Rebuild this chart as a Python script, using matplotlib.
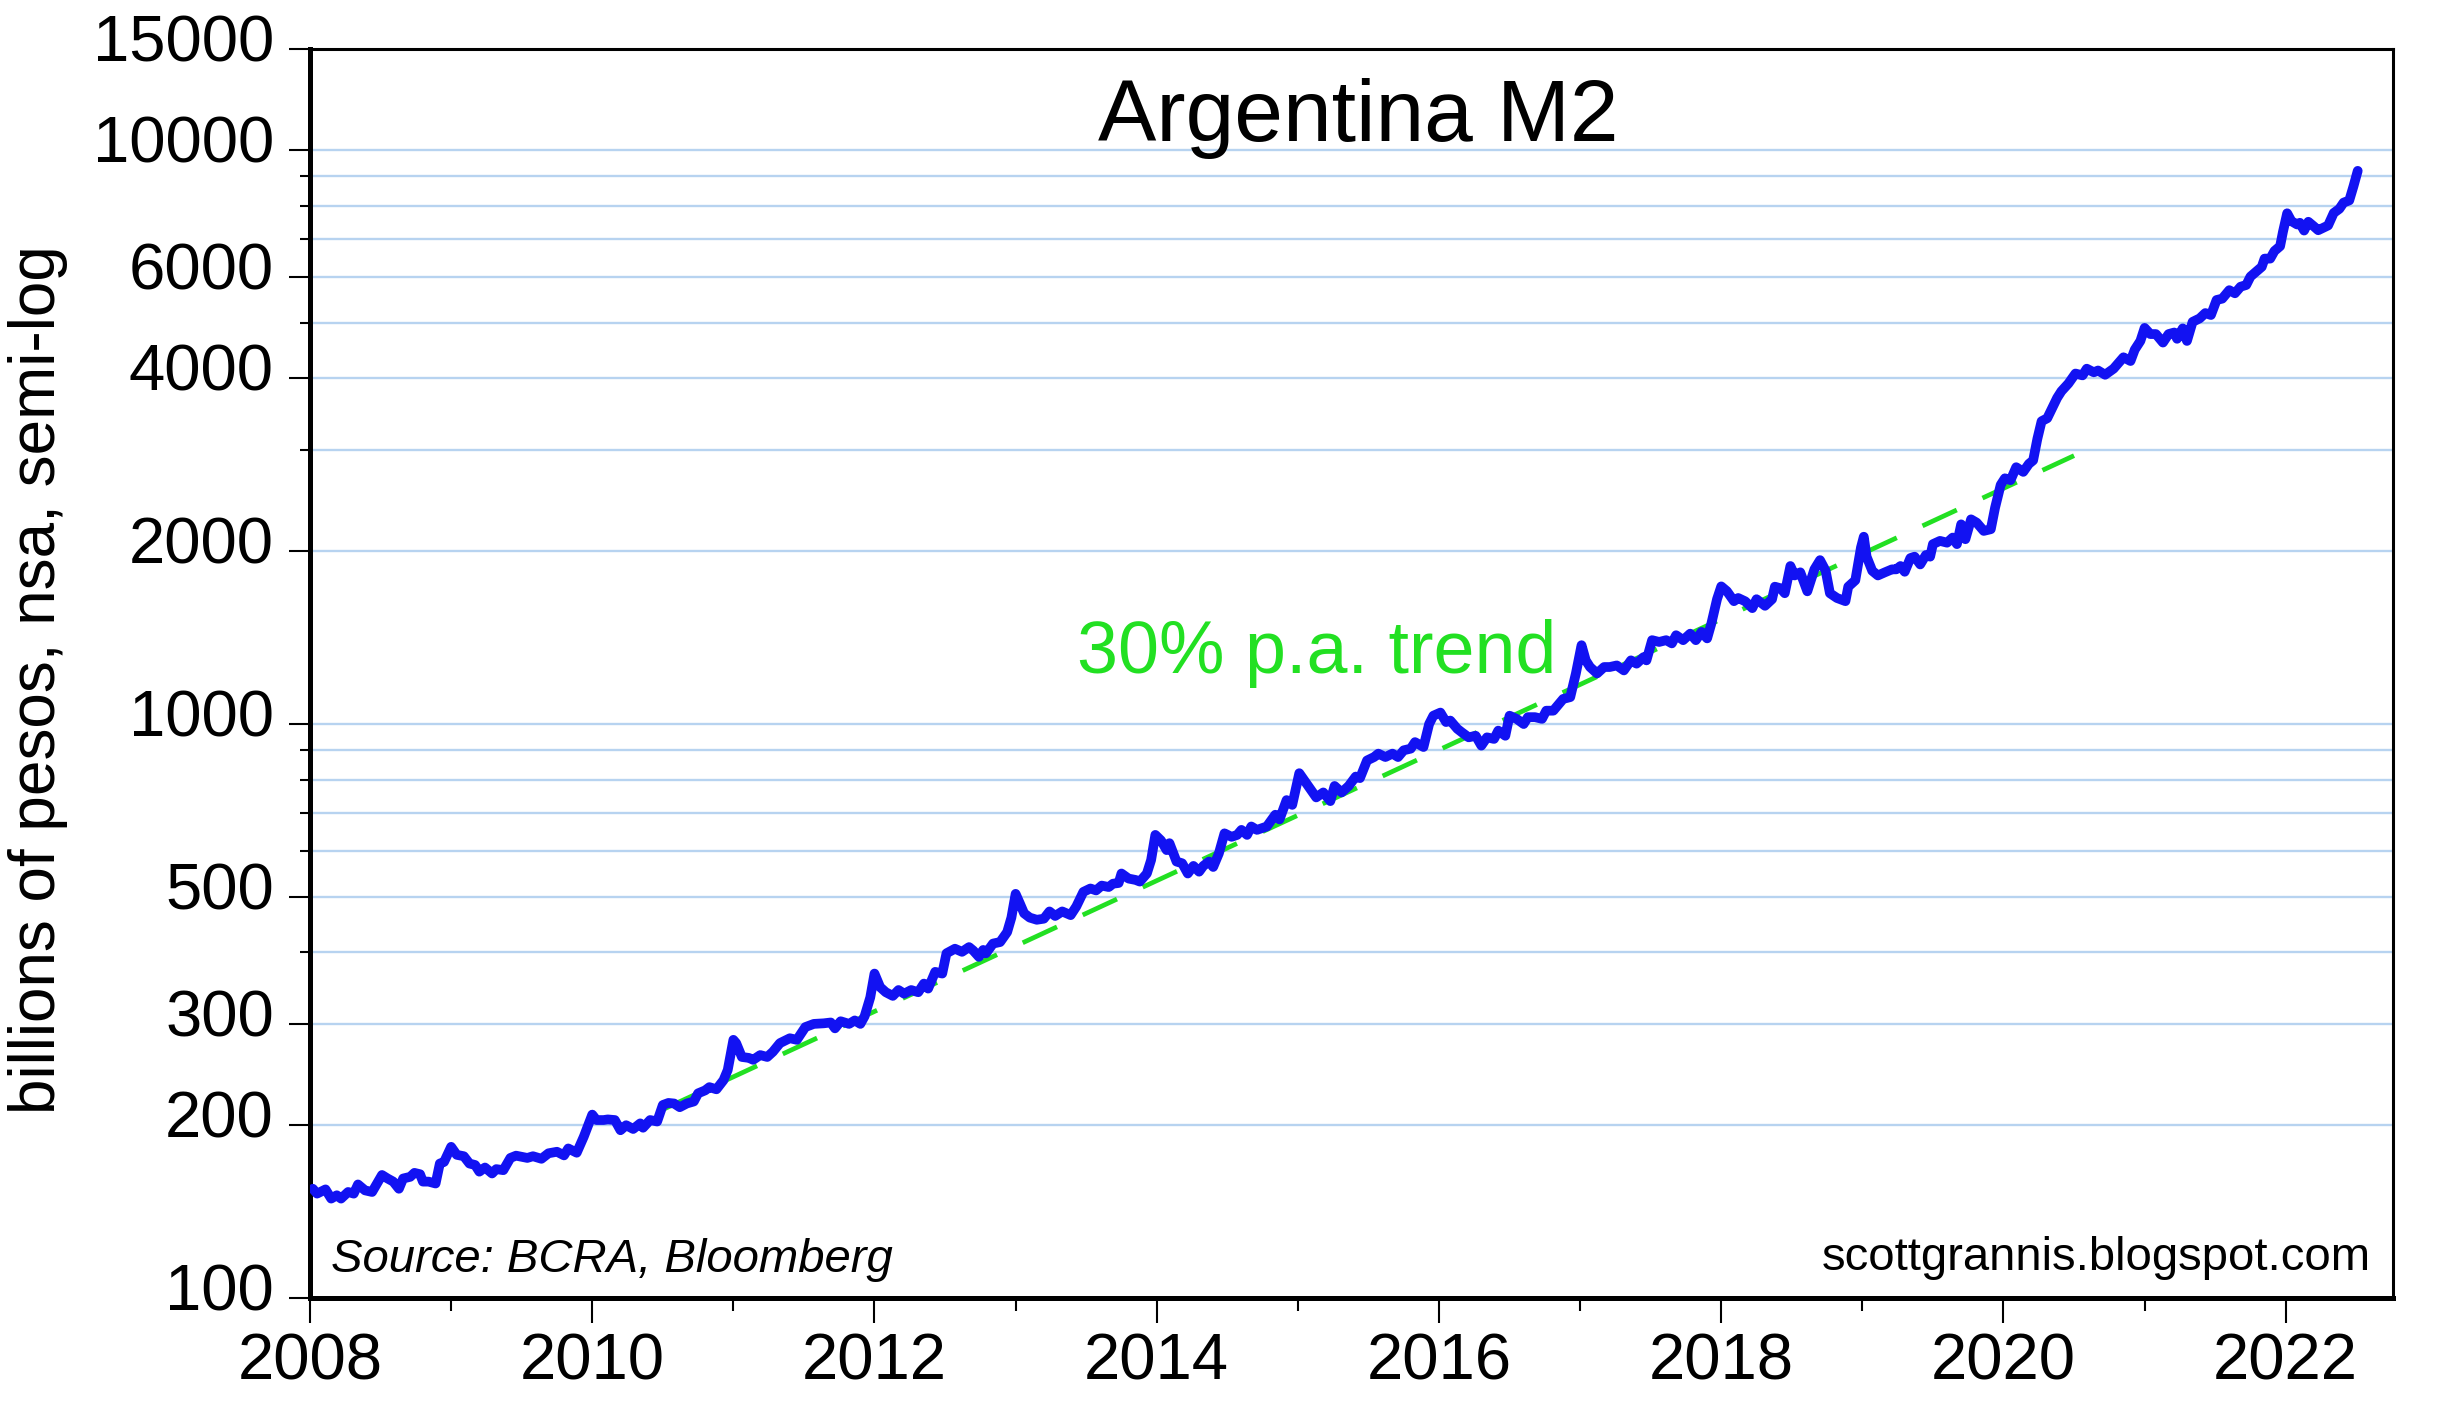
import matplotlib
matplotlib.use('Agg')
import matplotlib.pyplot as plt
from matplotlib.ticker import FixedLocator, FixedFormatter, NullFormatter
from matplotlib.transforms import ScaledTranslation

# Argentina M2, billions of pesos
years = [
    2008.02, 2008.05, 2008.11, 2008.15, 2008.19, 2008.22, 2008.27, 2008.31, 2008.34, 2008.39,
    2008.44, 2008.51, 2008.55, 2008.59, 2008.63, 2008.66, 2008.71, 2008.74, 2008.78, 2008.80,
    2008.84, 2008.89, 2008.92, 2008.95,
    2009.00, 2009.04, 2009.09, 2009.13, 2009.17, 2009.20, 2009.24, 2009.29, 2009.32, 2009.37,
    2009.42, 2009.46, 2009.54, 2009.58, 2009.64, 2009.69, 2009.75, 2009.80, 2009.83, 2009.89,
    2009.94,
    2010.00, 2010.03, 2010.08, 2010.11, 2010.16, 2010.20, 2010.24, 2010.29, 2010.34, 2010.36,
    2010.41, 2010.46, 2010.50, 2010.54, 2010.58, 2010.62, 2010.67, 2010.72, 2010.75, 2010.80,
    2010.83, 2010.88, 2010.93, 2010.96,
    2011.00, 2011.02, 2011.06, 2011.11, 2011.14, 2011.19, 2011.24, 2011.28, 2011.33, 2011.40,
    2011.45, 2011.51, 2011.57, 2011.64, 2011.69, 2011.72, 2011.76, 2011.82, 2011.86, 2011.90,
    2011.93, 2011.97,
    2012.00, 2012.04, 2012.08, 2012.13, 2012.17, 2012.21, 2012.26, 2012.31, 2012.35, 2012.38,
    2012.43, 2012.48, 2012.51, 2012.57, 2012.62, 2012.67, 2012.70, 2012.74, 2012.77, 2012.79,
    2012.84, 2012.89, 2012.94, 2012.97,
    2013.00, 2013.03, 2013.06, 2013.10, 2013.15, 2013.20, 2013.24, 2013.28, 2013.33, 2013.39,
    2013.43, 2013.48, 2013.53, 2013.57, 2013.61, 2013.66, 2013.69, 2013.73, 2013.75, 2013.80,
    2013.85, 2013.88, 2013.93, 2013.96, 2013.99,
    2014.03, 2014.07, 2014.09, 2014.14, 2014.18, 2014.22, 2014.26, 2014.30, 2014.33, 2014.37,
    2014.40, 2014.44, 2014.48, 2014.53, 2014.57, 2014.60, 2014.64, 2014.67, 2014.71, 2014.78,
    2014.84, 2014.87, 2014.92, 2014.96,
    2015.01, 2015.05, 2015.09, 2015.13, 2015.18, 2015.23, 2015.26, 2015.31, 2015.36, 2015.41,
    2015.44, 2015.49, 2015.54, 2015.57, 2015.62, 2015.67, 2015.71, 2015.75, 2015.80, 2015.83,
    2015.89, 2015.93, 2015.96,
    2016.01, 2016.05, 2016.08, 2016.13, 2016.16, 2016.21, 2016.26, 2016.30, 2016.34, 2016.39,
    2016.42, 2016.47, 2016.50, 2016.55, 2016.60, 2016.63, 2016.68, 2016.73, 2016.76, 2016.81,
    2016.85, 2016.88, 2016.93, 2016.97,
    2017.01, 2017.04, 2017.07, 2017.12, 2017.17, 2017.21, 2017.26, 2017.31, 2017.36, 2017.40,
    2017.45, 2017.47, 2017.51, 2017.56, 2017.61, 2017.65, 2017.68, 2017.73, 2017.78, 2017.82,
    2017.86, 2017.90, 2017.93, 2017.97,
    2018.00, 2018.04, 2018.09, 2018.12, 2018.17, 2018.22, 2018.25, 2018.31, 2018.36, 2018.38,
    2018.42, 2018.45, 2018.49, 2018.52, 2018.56, 2018.61, 2018.66, 2018.70, 2018.74, 2018.77,
    2018.82, 2018.88, 2018.90, 2018.95, 2018.99,
    2019.01, 2019.03, 2019.07, 2019.11, 2019.16, 2019.21, 2019.24, 2019.27, 2019.30, 2019.34,
    2019.37, 2019.41, 2019.45, 2019.48, 2019.50, 2019.55, 2019.60, 2019.64, 2019.67, 2019.70,
    2019.73, 2019.77, 2019.81, 2019.86, 2019.91, 2019.94, 2019.98,
    2020.01, 2020.05, 2020.09, 2020.14, 2020.18, 2020.21, 2020.24, 2020.27, 2020.31, 2020.34,
    2020.38, 2020.41, 2020.46, 2020.51, 2020.56, 2020.59, 2020.64, 2020.67, 2020.72, 2020.78,
    2020.85, 2020.90, 2020.93, 2020.97,
    2021.00, 2021.04, 2021.08, 2021.13, 2021.17, 2021.21, 2021.23, 2021.27, 2021.30, 2021.34,
    2021.39, 2021.43, 2021.47, 2021.51, 2021.55, 2021.60, 2021.64, 2021.68, 2021.72, 2021.75,
    2021.79, 2021.83, 2021.85, 2021.89, 2021.92, 2021.96, 2021.98,
    2022.01, 2022.04, 2022.08, 2022.10, 2022.13, 2022.16, 2022.20, 2022.23, 2022.27, 2022.30,
    2022.34, 2022.38, 2022.41, 2022.45, 2022.48, 2022.51,
]
m2 = [
    155, 152, 154.6, 149, 151, 149, 153, 152, 157.7, 154,
    153, 163.8, 161.5, 159.5, 155, 161.5, 162.6, 165.2, 164.3, 159.5,
    159.5, 158.3, 171.5, 172.6,
    183.4, 177.6, 176.6, 171.5, 170.5, 166, 168.8, 164.8, 167.7, 167,
    175.4, 177, 175.4, 176.6, 174.8, 178.7, 179.8, 177.2, 182.2, 179.1,
    191,
    208.7, 204.2, 204.2, 204.7, 204.2, 196, 200, 197, 201.5, 198,
    204.2, 203, 216.9, 218.7, 218.2, 215, 218.2, 220, 227.3, 230,
    233, 231, 239.6, 249.6,
    281.7, 278, 263, 262, 260, 265, 263, 268.5, 278, 283.5,
    281.7, 296.5, 300.3, 301, 302, 295, 303.5, 300.3, 304.5, 300.3,
    309.7, 334,
    367.5, 348, 341, 336, 344, 339, 344, 341, 353, 346,
    370, 367.5, 398.6, 406, 401, 408.7, 403, 393, 404, 398.6,
    414.5, 417, 434, 460,
    506, 487, 468, 460, 456, 458, 471.5, 463, 471.5, 464.6,
    481, 510, 517, 513, 523, 520, 527, 528.5, 549, 538,
    535, 531.5, 549, 579.5, 641,
    627, 603, 620, 576, 572, 549, 566, 553, 566, 576,
    563.6, 595, 645, 636, 641, 654, 641, 663, 654, 663,
    695, 682, 737, 723,
    821, 795, 770, 745, 760, 734, 780, 760, 780, 810,
    805, 864, 876, 888, 876, 888, 876, 900, 906, 930,
    912, 1000, 1034,
    1047, 1008, 1014, 981, 968, 948, 954, 917, 948, 942,
    974, 954, 1034, 1021, 1000, 1028, 1028, 1021, 1055, 1055,
    1084, 1106, 1114, 1225,
    1372, 1291, 1257, 1225, 1257, 1257, 1265, 1240, 1291, 1274,
    1308, 1291, 1400, 1390, 1400, 1382, 1428, 1400, 1437, 1400,
    1447, 1410, 1497, 1650,
    1737, 1704, 1637, 1658, 1636, 1592, 1650, 1607, 1650, 1735,
    1724, 1690, 1885, 1815, 1838, 1703, 1860, 1930, 1849, 1690,
    1658, 1637, 1735, 1780, 2030,
    2120, 1957, 1849, 1815, 1838, 1860, 1860, 1885, 1842, 1946,
    1957, 1897, 1970, 1957, 2058, 2085, 2070, 2113, 2058, 2228,
    2099, 2273, 2243, 2170, 2185, 2380, 2610,
    2680, 2660, 2802, 2750, 2840, 2880, 3140, 3370, 3410, 3530,
    3700, 3800, 3920, 4080, 4050, 4160, 4100, 4130, 4060, 4160,
    4355, 4290, 4490, 4650,
    4900, 4780, 4780, 4620, 4780, 4810, 4690, 4890, 4650, 5020,
    5090, 5200, 5160, 5480, 5510, 5700, 5630, 5780, 5820, 6020,
    6140, 6260, 6470, 6470, 6670, 6800, 7200,
    7760, 7520, 7420, 7470, 7240, 7500, 7360, 7250, 7330, 7390,
    7770, 7900, 8100, 8170, 8650, 9200,
]

# 30% p.a. trend line end points
trend_years = [2010.5, 2020.5]
trend_m2 = [213, 2935]

y_major = [100, 200, 300, 500, 1000, 2000, 4000, 6000, 10000, 15000]
y_minor = [400, 600, 700, 800, 900, 3000, 5000, 7000, 8000, 9000]
x_major = list(range(2008, 2023, 2))
x_minor = list(range(2009, 2023, 2))

W, H = 2441, 1416
font = 'Liberation Sans'
blue = '#1212f2'
green = '#22e022'
gridblue = '#b7d3f0'

fig = plt.figure(figsize=(W / 100, H / 100), dpi=100)
ax = fig.add_axes([310 / W, 1 - 1298 / H, (2393 - 310) / W, (1298 - 49) / H])

ax.set_yscale('log')
ax.set_ylim(100, 15000)
ax.set_xlim(2008, 2022.76)

ax.plot(trend_years, trend_m2, color=green, lw=3.4, dashes=(8, 6), zorder=3)
ax.plot(years, m2, color=blue, lw=7, solid_joinstyle='round', solid_capstyle='round', zorder=4)

ax.yaxis.set_major_locator(FixedLocator(y_major))
ax.yaxis.set_major_formatter(FixedFormatter([str(v) for v in y_major]))
ax.yaxis.set_minor_locator(FixedLocator(y_minor))
ax.yaxis.set_minor_formatter(NullFormatter())
ax.xaxis.set_major_locator(FixedLocator(x_major))
ax.xaxis.set_major_formatter(FixedFormatter([str(v) for v in x_major]))
ax.xaxis.set_minor_locator(FixedLocator(x_minor))

ax.yaxis.grid(True, which='both', color=gridblue, lw=1.7, zorder=0)
ax.set_axisbelow(True)

ax.tick_params(axis='y', which='major', direction='out', length=15, width=1.5,
               pad=11, labelsize=47)
ax.tick_params(axis='y', which='minor', direction='out', length=7, width=1.5)
ax.tick_params(axis='x', which='major', direction='out', length=18, width=1.5,
               pad=7, labelsize=47)
ax.tick_params(axis='x', which='minor', direction='out', length=9, width=1.5)
for lab in ax.get_yticklabels() + ax.get_xticklabels():
    lab.set_fontfamily(font)
for lab in ax.get_yticklabels():
    lab.set_transform(lab.get_transform() + ScaledTranslation(0, 0.11, fig.dpi_scale_trans))

for side in ['left', 'bottom']:
    ax.spines[side].set_linewidth(3.6)
for side in ['top', 'right']:
    ax.spines[side].set_linewidth(2.2)

fig.text(1358 / W, 1 - 141 / H, 'Argentina M2', ha='center', va='baseline',
         fontsize=63, family=font)
fig.text(1077 / W, 1 - 673 / H, '30% p.a. trend', ha='left', va='baseline',
         fontsize=53, family=font, color=green)
fig.text(331 / W, 1 - 1272 / H, 'Source: BCRA, Bloomberg', ha='left', va='baseline',
         fontsize=34, family=font, style='italic')
fig.text(2371 / W, 1 - 1270 / H, 'scottgrannis.blogspot.com', ha='right', va='baseline',
         fontsize=34, family=font)
fig.text(8 / W, 1 - 680 / H, 'billions of pesos, nsa, semi-log', ha='left', va='center',
         rotation=90, fontsize=46, family=font)

fig.savefig('out.png', dpi=100)
